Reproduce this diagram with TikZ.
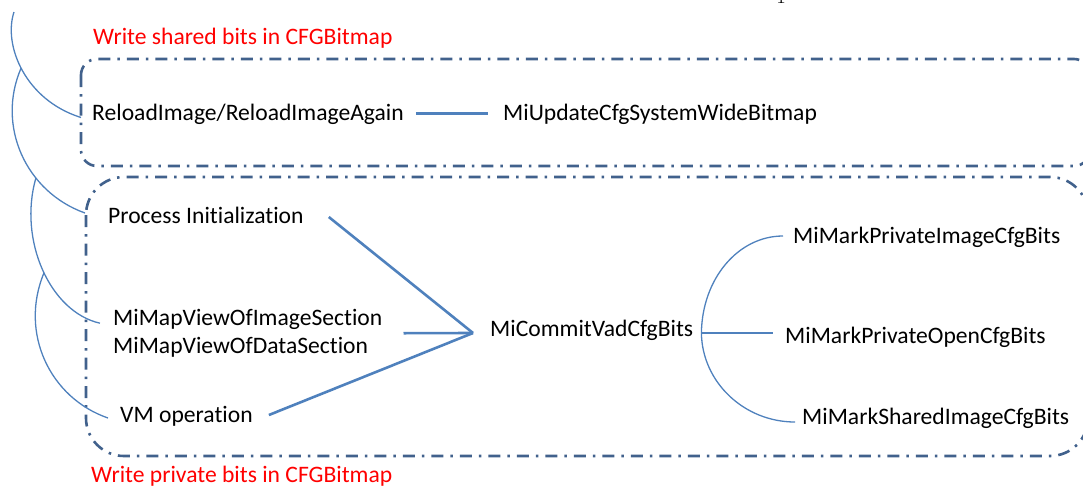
\documentclass[tikz,border=0pt]{standalone}
\usepackage{fontspec}
\newfontfamily\calfont{Carlito}[Ligatures={NoCommon}]
\usetikzlibrary{calc}
\definecolor{linkblue}{HTML}{4F81BD}
\definecolor{framecol}{HTML}{41618C}
\definecolor{notered}{HTML}{FF0000}
\tikzset{
  lbl/.style={font=\calfont\fontsize{23.6}{28}\selectfont, inner sep=0pt, text=black},
  fixh/.style={text height=17pt, text depth=3pt},
  note/.style={lbl, text=notered},
  link/.style={draw=linkblue, line width=2.6pt},
  branch/.style={draw=linkblue, line width=1.3pt},
  frame/.style={draw=framecol, line width=2.6pt, dash pattern=on 12pt off 7pt on 2.5pt off 7pt}
}
\begin{document}
\begin{tikzpicture}[x=1pt, y=-1pt]
\useasboundingbox (0,0) rectangle (1083,485);

% group frames
\draw[frame, rounded corners=16pt] (81,59) rectangle (1090,166);
\draw[frame, rounded corners=38pt] (86,177) rectangle (1088,456);

% captions
\node[note, anchor=base west] (sharedlbl) at (93,44.5) {Write shared bits in CFGBitmap};
\node[note, anchor=base west] (privlbl) at (91,482) {Write private bits in CFGBitmap};

% page fragment
\node[anchor=base, inner sep=0pt, font=\fontsize{20}{24}\selectfont] (pg) at (781,3.5) {$1$};

% shared path
\node[lbl, fixh, anchor=base west] (reload) at (92,120.5) {ReloadImage/ReloadImageAgain};
\node[lbl, fixh, anchor=base west] (update) at (503,120.5) {MiUpdateCfgSystemWideBitmap};
\draw[link] ([xshift=12pt]reload.east) -- ([xshift=-15pt]update.west);

% private path: callers
\node[lbl, fixh, anchor=base west] (proc) at (108,223) {Process Initialization};
\node[lbl, anchor=west, align=left] (map) at (113,333.2) {MiMapViewOfImageSection\\MiMapViewOfDataSection};
\node[lbl, fixh, anchor=base west] (vm) at (120,422) {VM operation};
\node[lbl, fixh, anchor=base west] (commit) at (490,336) {MiCommitVadCfgBits};
\coordinate (hub) at ([xshift=-17pt,yshift=-4pt]commit.west);
\draw[link] ([xshift=25pt,yshift=-1pt]proc.east) -- (hub);
\draw[link] ([xshift=21pt]map.east) -- (hub);
\draw[link] ([xshift=16pt]vm.east) -- (hub);

% private path: callees
\node[lbl, fixh, anchor=base west] (privimg) at (793,243) {MiMarkPrivateImageCfgBits};
\node[lbl, fixh, anchor=base west] (privopen) at (785,343) {MiMarkPrivateOpenCfgBits};
\node[lbl, fixh, anchor=base west] (shared) at (802,424) {MiMarkSharedImageCfgBits};
\coordinate (brk) at ([xshift=8pt,yshift=-4pt]commit.east);
\coordinate (openin) at ([xshift=-12pt,yshift=3pt]privopen.west);
\draw[branch] ([xshift=-10pt]privimg.west) .. controls (738,236) and (702,279) .. (brk)
  .. controls (702,382) and (744,422) .. ([xshift=-7pt,yshift=-5pt]shared.west);
\draw[link] (brk) -- (openin);

% call-chain braces on the left
\coordinate (top) at (14,12);
\draw[branch] (top) .. controls (3,45) and (25,100) .. ([xshift=-11pt,yshift=-4pt]reload.west)
  coordinate[pos=0.48] (b1);
\draw[branch] (b1) .. controls (-4,126) and (26,192) .. ([xshift=-23pt,yshift=3pt]proc.west)
  coordinate[pos=0.66] (b2);
\draw[branch] (b2) .. controls (18,240) and (50,312) .. ([xshift=-13pt,yshift=10pt]map.west)
  coordinate[pos=0.52] (b3);
\draw[branch] (b3) .. controls (19,333) and (50,398) .. ([xshift=-12pt,yshift=-3pt]vm.west);
\end{tikzpicture}
\end{document}
